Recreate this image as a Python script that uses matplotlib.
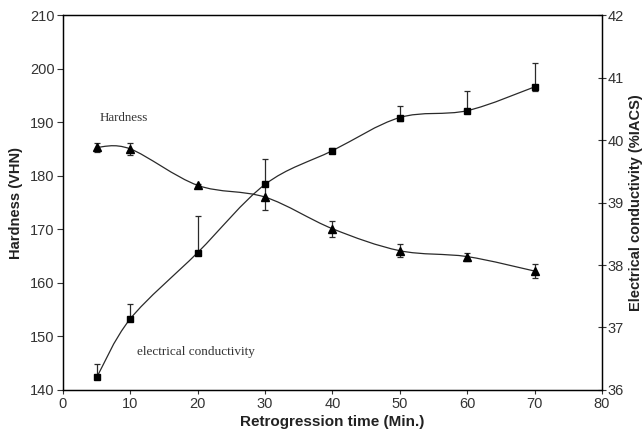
import matplotlib
matplotlib.use('Agg')
import matplotlib.pyplot as plt
from matplotlib.path import Path
from matplotlib.patches import PathPatch

# retrogression time (min)
time = [5, 10, 20, 30, 40, 50, 60, 70]

# hardness (VHN), left axis
hardness = [185.3, 185.0, 178.2, 176.0, 170.1, 166.0, 164.9, 162.2]
hardness_err = [0.8, 1.05, 0.3, 2.4, 1.5, 1.2, 0.75, 1.3]

# electrical conductivity (%IACS), right axis
conduct = [36.20, 37.14, 38.20, 39.29, 39.83, 40.36, 40.47, 40.85]
conduct_err_up = [0.21, 0.24, 0.58, 0.40, 0.04, 0.18, 0.32, 0.39]
conduct_err_lo = [0.0, 0.0, 0.0, 0.0, 0.04, 0.06, 0.0, 0.07]


def smooth_path(xs, ys):
    # catmull-rom through the points, written as cubic bezier segments
    verts = [(xs[0], ys[0])]
    codes = [Path.MOVETO]
    n = len(xs)
    for i in range(n - 1):
        x0, y0 = (xs[i - 1], ys[i - 1]) if i > 0 else (xs[i], ys[i])
        x1, y1 = xs[i], ys[i]
        x2, y2 = xs[i + 1], ys[i + 1]
        x3, y3 = (xs[i + 2], ys[i + 2]) if i + 2 < n else (x2, y2)
        c1 = (x1 + (x2 - x0) / 6.0, y1 + (y2 - y0) / 6.0)
        c2 = (x2 - (x3 - x1) / 6.0, y2 - (y3 - y1) / 6.0)
        verts += [c1, c2, (x2, y2)]
        codes += [Path.CURVE4] * 3
    return Path(verts, codes)


plt.rcParams['font.family'] = 'Liberation Sans'

fig = plt.figure(figsize=(6.44, 4.34), dpi=100)
ax = fig.add_axes([0.0978, 0.1014, 0.837, 0.864])
ax2 = ax.twinx()

line_col = '#2a2a2a'

ax.add_patch(PathPatch(smooth_path(time, hardness), fill=False, lw=0.9,
                       edgecolor=line_col, zorder=2))
ax.errorbar(time, hardness, yerr=hardness_err, fmt='^', color='black',
            ms=5.5, ecolor=line_col, elinewidth=0.9, capsize=2.5, capthick=0.9)

ax2.add_patch(PathPatch(smooth_path(time, conduct), fill=False, lw=0.9,
                        edgecolor=line_col, zorder=2))
ax2.errorbar(time, conduct, yerr=[conduct_err_lo, conduct_err_up], fmt='s',
             color='black', ms=4.5, ecolor=line_col, elinewidth=0.9,
             capsize=2.5, capthick=0.9)

ax.set_xlim(0, 80)
ax.set_ylim(140, 210)
ax2.set_ylim(36, 42)
ax.set_xticks(range(0, 81, 10))
ax.set_yticks(range(140, 211, 10))
ax2.set_yticks(range(36, 43))

tick_col = '#333333'
ax.tick_params(axis='x', direction='out', length=3, width=0.8,
               labelsize=10.5, colors=tick_col, pad=2)
ax.tick_params(axis='y', direction='out', length=4, width=0.8,
               labelsize=10.5, colors=tick_col, pad=2)
ax2.tick_params(axis='y', direction='inout', length=6, width=0.8,
                labelsize=10.5, colors=tick_col, pad=1)
for a in (ax, ax2):
    for s in a.spines.values():
        s.set_linewidth(0.9)
        s.set_color('black')

ax.set_xlabel('Retrogression time (Min.)', fontsize=11, fontweight='bold',
              color='#222222', labelpad=3)
ax.set_ylabel('Hardness (VHN)', fontsize=10.5, fontweight='bold',
              color='#222222', labelpad=5)
ax2.set_ylabel('Electrical conductivity (%IACS)', fontsize=10.5,
               fontweight='bold', color='#222222', labelpad=4)

ax.text(8.95, 190.8, 'Hardness', family='Liberation Serif', fontsize=9.4,
        color='#333333', ha='center', va='center')
ax.text(19.7, 147.0, 'electrical conductivity', family='Liberation Serif',
        fontsize=9.5, color='#333333', ha='center', va='center')

fig.savefig('out.png', dpi=100)
